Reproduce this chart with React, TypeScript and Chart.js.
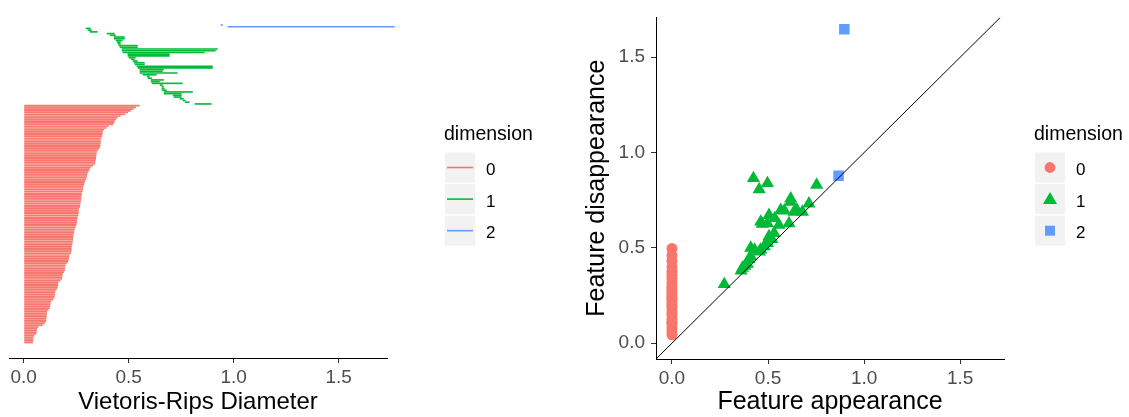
import React, { useEffect, useRef } from "react";
import { Chart, registerables } from "chart.js";

Chart.register(...registerables);

const FONT = "'Liberation Sans', Arial, Helvetica, sans-serif";
const RED = "#F8766D";
const GREEN = "#00BA38";
const BLUE = "#619CFF";
const DIM_COLORS = [RED, GREEN, BLUE];

const dimensionLabels = ["0", "1", "2"];
const legendTitle = "dimension";
const tickValues = [0, 0.5, 1.0, 1.5];

// ---------- Barcode (left), read against its own x axis ----------
const blueBirth = [0.938, 0.971];
const blueDeath = [0.948, 1.767];

const greenBirth = [
  0.295, 0.305, 0.314, 0.395, 0.41, 0.429, 0.429, 0.438, 0.443, 0.448,
  0.452, 0.457, 0.467, 0.467, 0.471, 0.495, 0.495, 0.5, 0.51, 0.519,
  0.524, 0.529, 0.538, 0.543, 0.552, 0.552, 0.552, 0.567, 0.586, 0.59,
  0.605, 0.605, 0.61, 0.648, 0.657, 0.657, 0.657, 0.667, 0.667, 0.71,
  0.714, 0.743, 0.757, 0.767, 0.814,
];
const greenDeath = [
  0.319, 0.324, 0.352, 0.433, 0.438, 0.481, 0.481, 0.471, 0.462, 0.462,
  0.543, 0.543, 0.924, 0.914, 0.862, 0.695, 0.695, 0.533, 0.529, 0.543,
  0.576, 0.576, 0.9, 0.9, 0.667, 0.662, 0.733, 0.633, 0.6, 0.61,
  0.667, 0.648, 0.757, 0.662, 0.667, 0.671, 0.681, 0.805, 0.752, 0.752,
  0.752, 0.762, 0.771, 0.79, 0.895,
];

const redBirth = 0;
const redDeath = [
  0.552, 0.535, 0.522, 0.51, 0.497, 0.483, 0.462, 0.447, 0.44, 0.434,
  0.431, 0.425, 0.405, 0.395, 0.383, 0.377, 0.376, 0.375, 0.372, 0.368,
  0.367, 0.367, 0.366, 0.365, 0.364, 0.36, 0.353, 0.349, 0.347, 0.346,
  0.345, 0.344, 0.342, 0.341, 0.34, 0.33, 0.319, 0.314, 0.31, 0.305,
  0.303, 0.302, 0.3, 0.297, 0.292, 0.29, 0.288, 0.284, 0.283, 0.282,
  0.28, 0.277, 0.276, 0.275, 0.275, 0.274, 0.272, 0.27, 0.27, 0.268,
  0.263, 0.262, 0.262, 0.261, 0.26, 0.257, 0.255, 0.254, 0.254, 0.252,
  0.249, 0.247, 0.243, 0.241, 0.24, 0.238, 0.236, 0.235, 0.235, 0.234,
  0.233, 0.231, 0.229, 0.228, 0.228, 0.227, 0.226, 0.219, 0.217, 0.216,
  0.214, 0.211, 0.205, 0.199, 0.198, 0.197, 0.196, 0.192, 0.186, 0.185,
  0.184, 0.182, 0.175, 0.165, 0.164, 0.163, 0.162, 0.158, 0.152, 0.15,
  0.149, 0.148, 0.146, 0.14, 0.13, 0.128, 0.127, 0.126, 0.124, 0.118,
  0.112, 0.111, 0.11, 0.109, 0.108, 0.107, 0.105, 0.1, 0.09, 0.07,
  0.064, 0.063, 0.062, 0.06, 0.05, 0.046, 0.045, 0.045, 0.044,
];

// ---------- Persistence diagram (right), read against its own axes ----------
const pdRedBirth = 0;
const pdRedDeath = [
  0.044, 0.06, 0.08, 0.1, 0.11, 0.127, 0.149, 0.163, 0.185, 0.197,
  0.211, 0.228, 0.235, 0.248, 0.262, 0.275, 0.29, 0.303, 0.32, 0.341,
  0.36, 0.375, 0.4, 0.43, 0.46, 0.497,
];
const pdGreenBirth = [
  0.272, 0.36, 0.367, 0.38, 0.393, 0.4, 0.41, 0.41, 0.424, 0.43,
  0.454, 0.455, 0.462, 0.462, 0.47, 0.48, 0.497, 0.497, 0.497, 0.505,
  0.505, 0.52, 0.532, 0.535, 0.557, 0.566, 0.585, 0.609, 0.618, 0.618,
  0.635, 0.65, 0.679, 0.713, 0.753,
];
const pdGreenDeath = [
  0.309, 0.38, 0.395, 0.405, 0.415, 0.44, 0.455, 0.5, 0.865, 0.49,
  0.807, 0.48, 0.49, 0.637, 0.625, 0.508, 0.525, 0.628, 0.839, 0.56,
  0.672, 0.545, 0.577, 0.655, 0.62, 0.698, 0.695, 0.628, 0.741, 0.758,
  0.689, 0.7, 0.689, 0.732, 0.83,
];
const pdBlueBirth = [0.867, 0.897];
const pdBlueDeath = [0.878, 1.647];

// axis limits
const barX = { min: -0.07, max: 1.73 };
const barY = { min: -5.41, max: 195.03 };
const pdX = { min: -0.083, max: 1.728 };
const pdY = { min: -0.083, max: 1.709 };

type KeyShape = "line" | "circle" | "triangle" | "rect";

function makeLegend(id: string, left: number, shapes: KeyShape[]) {
  return {
    id,
    afterDraw(chart: any) {
      const ctx: CanvasRenderingContext2D = chart.ctx;
      ctx.save();
      ctx.fillStyle = "#000";
      ctx.font = `19.5px ${FONT}`;
      ctx.textAlign = "left";
      ctx.textBaseline = "alphabetic";
      ctx.fillText(legendTitle, left - 1, 140);
      dimensionLabels.forEach((lab, i) => {
        const top = 152.5 + i * 31.6;
        ctx.fillStyle = "#F2F2F2";
        ctx.fillRect(left, top, 30, 30);
        const cx = left + 15;
        const cy = top + 15;
        const col = DIM_COLORS[i];
        ctx.fillStyle = col;
        ctx.strokeStyle = col;
        const s = shapes[i];
        if (s === "line") {
          ctx.lineWidth = 1.6;
          ctx.beginPath();
          ctx.moveTo(cx - 13, cy);
          ctx.lineTo(cx + 13, cy);
          ctx.stroke();
        } else if (s === "circle") {
          ctx.beginPath();
          ctx.arc(cx, cy, 5.4, 0, Math.PI * 2);
          ctx.fill();
        } else if (s === "triangle") {
          ctx.beginPath();
          ctx.moveTo(cx, cy - 7);
          ctx.lineTo(cx - 7, cy + 5);
          ctx.lineTo(cx + 7, cy + 5);
          ctx.closePath();
          ctx.fill();
        } else {
          ctx.fillRect(cx - 5, cy - 5, 10, 10);
        }
        ctx.fillStyle = "#000";
        ctx.font = `17px ${FONT}`;
        ctx.fillText(lab, left + 41, top + 22.5);
      });
      ctx.restore();
    },
  };
}

function setTicks(scale: any) {
  scale.ticks = tickValues.map((v) => ({ value: v }));
}

function axisCommon(title: string, titleSize: number, titlePadding: any) {
  return {
    type: "linear" as const,
    offset: false,
    grid: {
      display: true,
      drawOnChartArea: false,
      drawTicks: true,
      tickLength: 5,
      color: "#333333",
      lineWidth: 1,
    },
    border: { display: true, color: "#000", width: 1 },
    afterBuildTicks: setTicks,
    ticks: {
      color: "#4D4D4D",
      font: { size: 19, family: FONT },
      padding: 3,
      maxRotation: 0,
      autoSkip: false,
      callback: (v: any) => Number(v).toFixed(1),
    },
    title: {
      display: true,
      text: title,
      color: "#000",
      font: { size: titleSize, family: FONT },
      padding: titlePadding,
    },
  };
}

export default function App() {
  const leftRef = useRef<HTMLCanvasElement>(null);
  const rightRef = useRef<HTMLCanvasElement>(null);

  useEffect(() => {
    const nBlue = blueBirth.length;
    const nGreen = greenBirth.length;
    const blueData = blueBirth.map((b, i) => ({ x: [b, blueDeath[i]], y: i + 1 }));
    const greenData = greenBirth.map((b, i) => ({ x: [b, greenDeath[i]], y: nBlue + i + 1 }));
    const redData = redDeath.map((d, i) => ({ x: [redBirth, d], y: nBlue + nGreen + i + 1 }));

    const barDs = (label: string, data: any[], color: string, extra: any = {}) => ({
      label,
      data,
      backgroundColor: color,
      borderWidth: 0,
      grouped: false,
      categoryPercentage: 1,
      barPercentage: 0.95,
      ...extra,
    });

    const left = new Chart(leftRef.current as HTMLCanvasElement, {
      type: "bar",
      data: {
        datasets: [
          barDs("2", blueData, BLUE, { clip: false }),
          barDs("1", greenData, GREEN),
          barDs("0", redData, RED),
        ] as any,
      },
      options: {
        indexAxis: "y",
        animation: false,
        responsive: false,
        events: [],
        layout: { padding: { left: 9, right: 173, top: 14, bottom: 0 } },
        plugins: { legend: { display: false }, tooltip: { enabled: false } },
        scales: {
          x: {
            ...axisCommon("Vietoris-Rips Diameter", 24, { top: 0, bottom: 0 }),
            position: "bottom",
            min: barX.min,
            max: barX.max,
            afterFit: (s: any) => {
              s.height = 59;
            },
          } as any,
          y: {
            type: "linear",
            offset: false,
            reverse: true,
            display: false,
            min: barY.min,
            max: barY.max,
            grid: { offset: false },
          },
        },
      } as any,
      plugins: [makeLegend("barLegend", 445, ["line", "line", "line"])],
    });

    const right = new Chart(rightRef.current as HTMLCanvasElement, {
      type: "scatter",
      data: {
        datasets: [
          {
            label: "diagonal",
            data: [
              { x: pdX.min, y: pdX.min },
              { x: pdY.max, y: pdY.max },
            ],
            showLine: true,
            borderColor: "#000",
            borderWidth: 1,
            pointRadius: 0,
          },
          {
            label: "0",
            data: pdRedDeath.map((d) => ({ x: pdRedBirth, y: d })),
            pointStyle: "circle",
            pointRadius: 5.5,
            pointBorderWidth: 0,
            backgroundColor: RED,
          },
          {
            label: "1",
            data: pdGreenBirth.map((b, i) => ({ x: b, y: pdGreenDeath[i] })),
            pointStyle: "triangle",
            pointRadius: 7.6,
            pointBorderWidth: 0,
            backgroundColor: GREEN,
          },
          {
            label: "2",
            data: pdBlueBirth.map((b, i) => ({ x: b, y: pdBlueDeath[i] })),
            pointStyle: "rect",
            pointRadius: 7.4,
            pointBorderWidth: 0,
            backgroundColor: BLUE,
          },
        ] as any,
      },
      options: {
        animation: false,
        responsive: false,
        events: [],
        layout: { padding: { left: 0, right: 125, top: 14, bottom: 0 } },
        plugins: { legend: { display: false }, tooltip: { enabled: false } },
        scales: {
          x: {
            ...axisCommon("Feature appearance", 25, { top: 0, bottom: 0 }),
            position: "bottom",
            min: pdX.min,
            max: pdX.max,
            afterFit: (s: any) => {
              s.height = 58;
            },
          } as any,
          y: {
            ...axisCommon("Feature disappearance", 25, { top: 22, bottom: 0 }),
            position: "left",
            min: pdY.min,
            max: pdY.max,
            ticks: {
              color: "#4D4D4D",
              font: { size: 19, family: FONT },
              padding: 6,
              autoSkip: false,
              callback: (v: any) => Number(v).toFixed(1),
            },
            afterFit: (s: any) => {
              s.width = 96;
            },
          } as any,
        },
      } as any,
      plugins: [makeLegend("pdLegend", 475, ["circle", "triangle", "rect"])],
    });

    return () => {
      left.destroy();
      right.destroy();
    };
  }, []);

  return (
    <div
      style={{
        position: "absolute",
        left: 0,
        top: 0,
        width: 1129,
        height: 417,
        background: "#fff",
        overflow: "hidden",
      }}
    >
      <canvas
        ref={leftRef}
        width={560}
        height={417}
        style={{ position: "absolute", left: 0, top: 0, width: 560, height: 417 }}
      />
      <canvas
        ref={rightRef}
        width={569}
        height={417}
        style={{ position: "absolute", left: 560, top: 0, width: 569, height: 417 }}
      />
    </div>
  );
}
